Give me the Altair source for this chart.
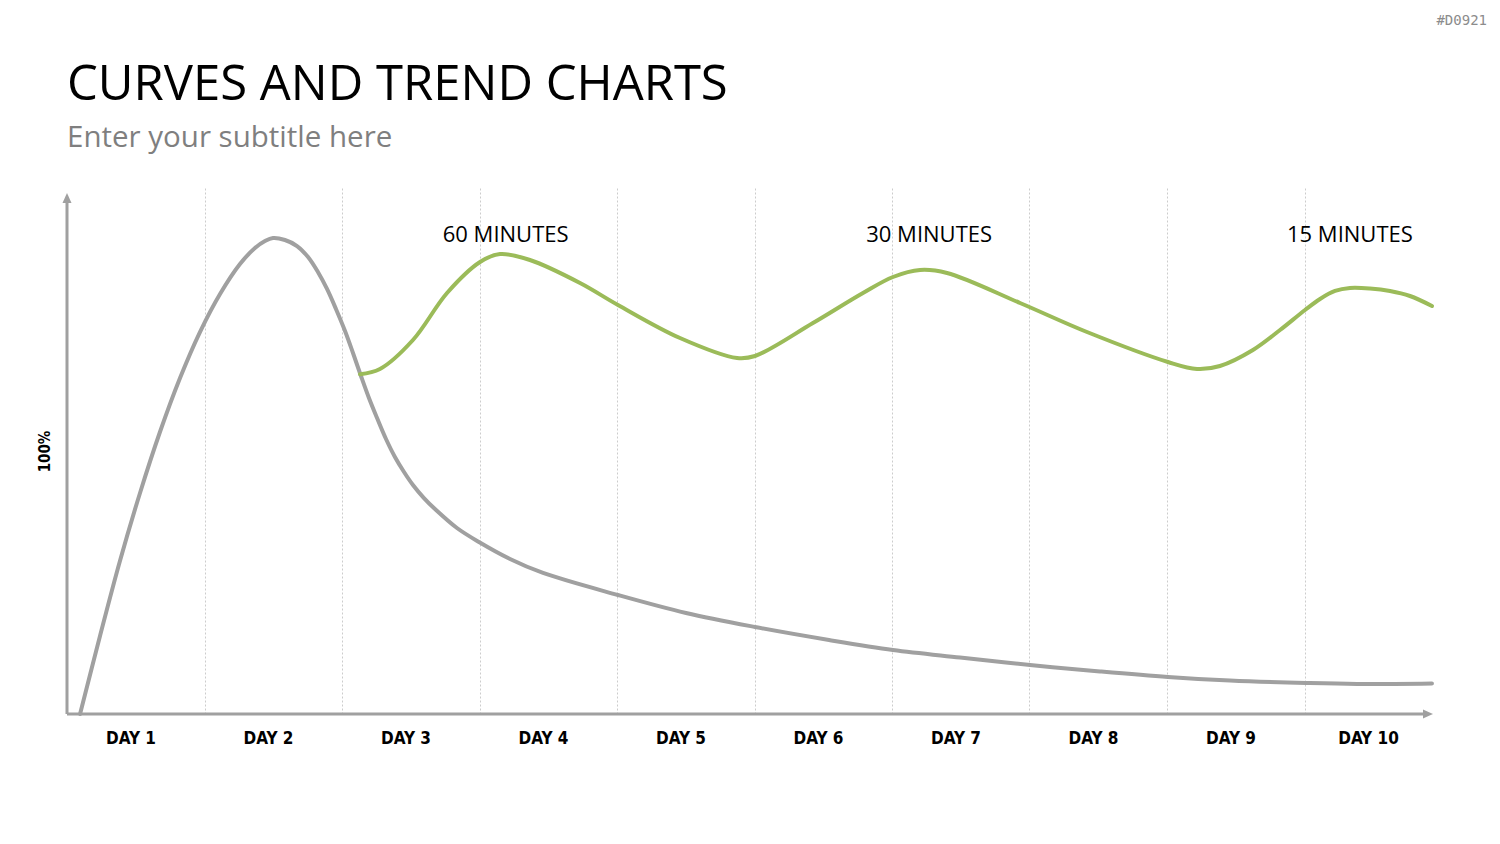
import altair as alt
import pandas as pd

# --- data -------------------------------------------------------------
# x in days (0 = start of day 1), y in percent of the full height

# forgetting curve without reviews
retention_x = [0.095, 0.24, 0.385, 0.531, 0.676, 0.822, 0.967, 1.113, 1.258, 1.367,
               1.44, 1.498, 1.585, 1.673, 1.753, 1.825, 1.891, 1.956, 2.022, 2.08,
               2.138, 2.196, 2.255, 2.32, 2.385, 2.451, 2.516, 2.596, 2.684, 2.836,
               2.996, 3.222, 3.462, 4.007, 4.502, 5.004, 5.542, 6.007, 6.495, 7.004,
               7.513, 8.007, 8.458, 9.011, 9.382, 9.927]
retention_y = [0.0, 14.83, 29.09, 42.02, 53.61, 63.88, 72.62, 79.85, 85.55, 88.59,
               89.92, 90.49, 90.11, 88.97, 86.88, 84.03, 80.8, 77.0, 72.81, 68.63,
               64.26, 60.08, 56.27, 52.28, 48.86, 46.01, 43.54, 41.06, 38.78, 35.36,
               32.7, 29.47, 26.81, 22.62, 19.2, 16.54, 14.07, 12.17, 10.74, 9.32,
               8.08, 7.03, 6.37, 5.89, 5.7, 5.8]

# retention with spaced reviews
review_x = [2.131, 2.276, 2.516, 2.764, 3.004, 3.149, 3.367, 3.731, 4.007, 4.458,
            4.873, 5.004, 5.425, 5.789, 6.007, 6.204, 6.4, 6.931, 7.418, 8.007,
            8.218, 8.385, 8.625, 8.822, 9.004, 9.113, 9.222, 9.331, 9.476, 9.622,
            9.767, 9.927]
review_y = [64.6, 65.59, 71.1, 80.04, 85.93, 87.45, 86.31, 81.94, 77.76, 71.48,
            67.68, 68.06, 74.33, 80.04, 83.08, 84.41, 83.84, 78.14, 72.62, 66.92,
            65.59, 66.16, 69.2, 73.0, 76.81, 78.9, 80.42, 80.99, 80.89, 80.42,
            79.47, 77.57]

note_text = ["60 MINUTES", "30 MINUTES", "15 MINUTES"]
note_x = [3.19, 6.27, 9.33]
note_y = [91.0, 91.0, 91.0]

day_values = [1, 2, 3, 4, 5, 6, 7, 8, 9, 10]

title_text = ["CURVES AND TREND CHARTS"]
subtitle_text = ["Enter your subtitle here"]
slide_id = ["#D0921"]

# --- tables -----------------------------------------------------------
curve_df = pd.concat([
    pd.DataFrame({"x": retention_x, "y": retention_y, "series": "retention"}),
    pd.DataFrame({"x": review_x, "y": review_y, "series": "review"}),
], ignore_index=True)

notes_df = pd.DataFrame({"x": note_x, "y": note_y, "label": note_text})

axis_lines_df = pd.DataFrame({
    "x": [0.0, 0.0], "y": [0.0, 0.0],
    "x2": [9.87, 0.0], "y2": [0.0, 97.3],
})
arrow_df = pd.DataFrame({
    "x": [9.898, 0.0], "y": [0.0, 98.1],
    "shape": ["M1,0L-1,-0.9L-1,0.9Z", "M0,-1L0.9,1L-0.9,1Z"],
})

# --- styling ----------------------------------------------------------
GRAY = "#a0a0a0"
GREEN = "#9bbb59"
BODY_FONT = "'Open Sans', 'Noto Sans', sans-serif"
NARROW_FONT = "'Liberation Sans Narrow', 'DejaVu Sans Condensed', 'DejaVu Sans', sans-serif"

PLOT_W, PLOT_H = 1375, 526

xs = alt.Scale(domain=[0, 10], nice=False, zero=False)
ys = alt.Scale(domain=[0, 100], nice=False, zero=False)

x_axis = alt.Axis(
    values=day_values, title=None, domain=False, ticks=False,
    grid=True, gridColor="#cccccc", gridDash=[2, 2], gridWidth=1,
    gridOpacity={"condition": {"test": "datum.value == 10", "value": 0}, "value": 1},
    labelExpr="'DAY ' + datum.value", labelOffset=-74,
    labelFlush=False, labelOverlap=False, labelPadding=16,
    labelFont=NARROW_FONT, labelFontSize=17, labelFontWeight="bold",
    labelColor="#000000",
)
y_axis = alt.Axis(
    title="100%", labels=False, ticks=False, domain=False, grid=False,
    titleFont=NARROW_FONT, titleFontSize=15, titleFontWeight="bold",
    titleColor="#000000", titlePadding=15,
)

# the same positional encodings are shared by every data layer
x_enc = alt.X("x:Q", scale=xs, axis=x_axis)
y_enc = alt.Y("y:Q", scale=ys, axis=y_axis)

curves = alt.Chart(curve_df).mark_line(
    interpolate="catmull-rom", strokeWidth=4, strokeCap="round"
).encode(
    x=x_enc,
    y=y_enc,
    color=alt.Color("series:N",
                    scale=alt.Scale(domain=["retention", "review"], range=[GRAY, GREEN]),
                    legend=None),
)

axis_lines = alt.Chart(axis_lines_df).mark_rule(color=GRAY, strokeWidth=3).encode(
    x=x_enc, x2="x2:Q", y=y_enc, y2="y2:Q",
)

arrows = alt.Chart(arrow_df).mark_point(
    filled=True, opacity=1, color=GRAY, size=100, strokeWidth=0
).encode(
    x=x_enc, y=y_enc,
    shape=alt.Shape("shape:N", scale=None),
)

notes = alt.Chart(notes_df).mark_text(
    font=BODY_FONT, fontSize=22, color="#000000", align="center", baseline="middle"
).encode(x=x_enc, y=y_enc, text="label:N")

title = alt.Chart(pd.DataFrame({"t": title_text})).mark_text(
    font=BODY_FONT, fontSize=49, color="#000000", align="left", baseline="alphabetic"
).encode(x=alt.value(0), y=alt.value(-88), text="t:N")

subtitle = alt.Chart(pd.DataFrame({"t": subtitle_text})).mark_text(
    font=BODY_FONT, fontSize=29.5, color="#7f7f7f", align="left", baseline="alphabetic"
).encode(x=alt.value(0), y=alt.value(-41), text="t:N")

tag = alt.Chart(pd.DataFrame({"t": slide_id})).mark_text(
    font="'DejaVu Sans Mono', monospace", fontSize=14, color="#8c8c8c",
    align="right", baseline="alphabetic"
).encode(x=alt.value(1420), y=alt.value(-163), text="t:N")

chart = alt.layer(
    curves, axis_lines, arrows, notes, title, subtitle, tag
).properties(
    width=PLOT_W,
    height=PLOT_H,
    autosize=alt.AutoSizeParams(type="none"),
    padding={"left": 67, "top": 188, "right": 58, "bottom": 130},
    background="white",
).configure_view(stroke=None)

chart.save("out.html", embed_options={"renderer": "svg", "actions": False})
